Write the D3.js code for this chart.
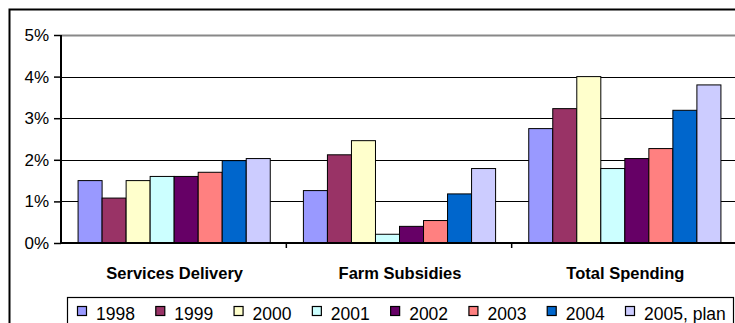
<!DOCTYPE html>
<html><head><meta charset="utf-8">
<script src="https://cdn.jsdelivr.net/npm/d3@7"></script>
<style>
html,body{margin:0;padding:0;background:#fff;}
svg{display:block;font-family:Arial,"Liberation Sans",sans-serif;}
</style></head>
<body>
<svg id="chart" width="735" height="323"></svg>
<script>
const categories = ["Services Delivery", "Farm Subsidies", "Total Spending"];
const seriesNames = ["1998", "1999", "2000", "2001", "2002", "2003", "2004", "2005, plan"];
const seriesColors = ["#9999FF", "#993366", "#FFFFCC", "#CCFFFF", "#660066", "#FF8080", "#0066CC", "#CCCCFF"];
const v1998 = [1.50, 1.26, 2.75];
const v1999 = [1.08, 2.12, 3.23];
const v2000 = [1.50, 2.46, 4.00];
const v2001 = [1.60, 0.21, 1.79];
const v2002 = [1.60, 0.40, 2.03];
const v2003 = [1.70, 0.54, 2.27];
const v2004 = [1.98, 1.18, 3.19];
const v2005 = [2.03, 1.79, 3.80];
const seriesValues = [v1998, v1999, v2000, v2001, v2002, v2003, v2004, v2005];
const yTicks = [0, 1, 2, 3, 4, 5];

const svg = d3.select("#chart");
const plot = {left: 61, right: 737, top: 35, bottom: 243};

// outer frame
svg.append("rect").attr("x", 9.5).attr("y", 9.5).attr("width", 740).attr("height", 340)
  .attr("fill", "none").attr("stroke", "#000").attr("stroke-width", 2);

const x0 = d3.scaleBand().domain(categories).range([plot.left, plot.right]).padding(0);
const x1 = d3.scaleBand().domain(seriesNames).range([0, x0.bandwidth()]).paddingInner(0).paddingOuter(0.69);
const y = d3.scaleLinear().domain([0, 5]).range([plot.bottom, plot.top]);

// gridlines
svg.append("g").selectAll("line").data(yTicks.filter(t => t > 0)).join("line")
  .attr("x1", plot.left).attr("x2", plot.right)
  .attr("y1", d => Math.round(y(d)) + 0.5).attr("y2", d => Math.round(y(d)) + 0.5)
  .attr("stroke", d => d === 5 ? "#888" : "#000")
  .attr("stroke-width", d => d === 5 ? 2 : 1.2);

// bars
const groups = svg.append("g").selectAll("g").data(categories).join("g")
  .attr("transform", d => `translate(${x0(d)},0)`);
groups.selectAll("rect").data((c, ci) => seriesNames.map((s, si) => ({s, si, v: seriesValues[si][ci]})))
  .join("rect")
  .attr("x", d => x1(d.s) + 0.5)
  .attr("width", x1.bandwidth())
  .attr("y", d => y(d.v))
  .attr("height", d => y(0) - y(d.v))
  .attr("fill", d => seriesColors[d.si])
  .attr("stroke", "#000").attr("stroke-width", 1);

// y axis
const yAxis = d3.axisLeft(y).tickValues(yTicks).tickFormat(d => d + "%").tickSize(7).tickPadding(5);
const ga = svg.append("g").attr("transform", `translate(${plot.left},0)`).call(yAxis);
ga.select(".domain").attr("stroke", "#000").attr("stroke-width", 2).attr("d", `M0,${plot.top}V${plot.bottom}`);
ga.selectAll(".tick line").attr("stroke", "#000").attr("stroke-width", 1.5);
ga.selectAll(".tick text").attr("font-size", 17).attr("fill", "#000")
  .attr("font-family", "Arial, 'Liberation Sans', sans-serif");

// x axis
svg.append("line").attr("x1", plot.left).attr("x2", plot.right).attr("y1", plot.bottom).attr("y2", plot.bottom)
  .attr("stroke", "#000").attr("stroke-width", 2);
svg.append("g").selectAll("line").data(categories.slice(1)).join("line")
  .attr("x1", d => x0(d)).attr("x2", d => x0(d))
  .attr("y1", plot.bottom).attr("y2", plot.bottom + 5)
  .attr("stroke", "#000").attr("stroke-width", 1.5);
svg.append("g").selectAll("text").data(categories).join("text")
  .attr("x", d => x0(d) + x0.bandwidth() / 2 + 1)
  .attr("y", 279)
  .attr("text-anchor", "middle")
  .attr("font-size", 16.5).attr("font-weight", "bold")
  .text(d => d);

// legend
svg.append("rect").attr("x", 67.5).attr("y", 297.5).attr("width", 666).attr("height", 60)
  .attr("fill", "#fff").attr("stroke", "#000").attr("stroke-width", 1.2);
const legX = d3.scalePoint().domain(seriesNames).range([77, 625]);
const li = svg.append("g").selectAll("g").data(seriesNames).join("g")
  .attr("transform", d => `translate(${legX(d)},0)`);
li.append("rect").attr("x", 0.5).attr("y", 306.5).attr("width", 9).attr("height", 9)
  .attr("fill", (d, i) => seriesColors[i]).attr("stroke", "#000").attr("stroke-width", 1.2);
li.append("text").attr("x", 19).attr("y", 320).attr("font-size", 17.5).text(d => d);
</script>
</body></html>
